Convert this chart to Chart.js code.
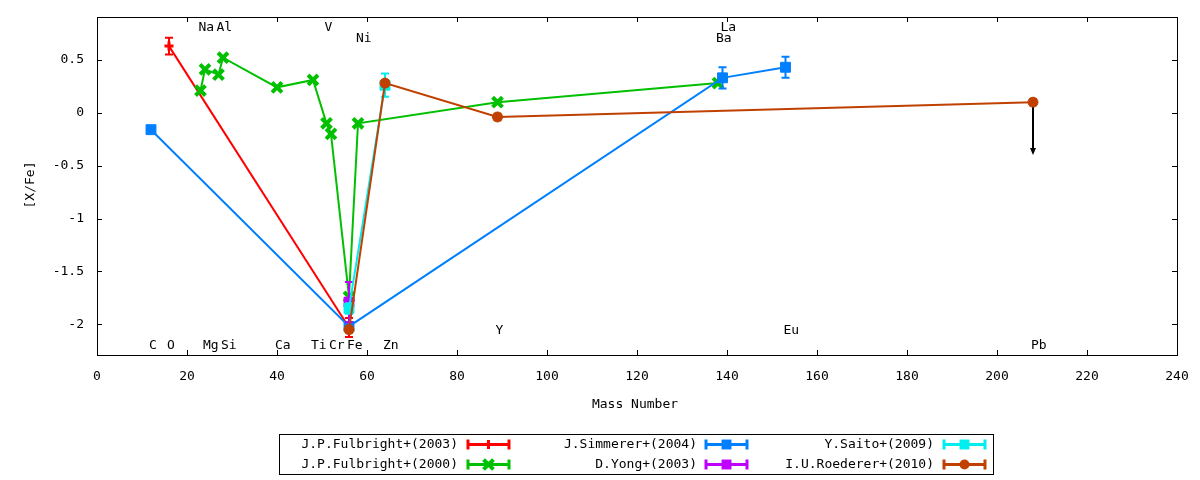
<!DOCTYPE html>
<html>
<head>
<meta charset="utf-8">
<title>[X/Fe] vs Mass Number</title>
<script src="https://cdn.jsdelivr.net/npm/chart.js@4.4.0/dist/chart.umd.min.js"></script>
<style>
  body { margin: 0; background: #fff; }
  #wrap { width: 1200px; height: 480px; }
</style>
</head>
<body>
<div id="wrap"><canvas id="abund" width="1200" height="480"></canvas></div>
<script>
var FONT = '"DejaVu Sans Mono", monospace';

// axis ticks
var xTicks = [0, 20, 40, 60, 80, 100, 120, 140, 160, 180, 200, 220, 240];
var yTicks = [-2, -1.5, -1, -0.5, 0, 0.5];

// J.P.Fulbright+(2003)
var fulb03Mass = [16, 56];
var fulb03Val  = [0.63, -2.03];
var fulb03Err  = [0.08, 0.09];

// J.P.Fulbright+(2000)
var fulb00Mass = [23, 24, 27, 28, 40, 48, 51, 52, 56, 58, 89, 138];
var fulb00Val  = [0.21, 0.41, 0.36, 0.52, 0.24, 0.31, -0.10, -0.20, -1.74, -0.10, 0.10, 0.28];
var fulb00Err  = [0, 0, 0, 0, 0, 0, 0, 0, 0, 0, 0, 0];

// J.Simmerer+(2004)
var simmMass = [12, 56, 139, 153];
var simmVal  = [-0.16, -2.02, 0.33, 0.43];
var simmErr  = [0.03, 0.03, 0.10, 0.10];

// D.Yong+(2003)
var yongMass = [56];
var yongVal  = [-1.79];
var yongErr  = [0.19];

// Y.Saito+(2009)
var saitoMass = [56, 64];
var saitoVal  = [-1.85, 0.26];
var saitoErr  = [0.05, 0.11];

// I.U.Roederer+(2010)
var roedMass = [56, 64, 89, 208];
var roedVal  = [-2.05, 0.28, -0.04, 0.10];
var roedErr  = [0.03, 0.03, 0.03, 0.03];

// upper limit (Pb)
var limitMass = [208];
var limitFrom = [0.10];
var limitTo   = [-0.40];

// element labels
var elemNames = ['C', 'O', 'Na', 'Mg', 'Al', 'Si', 'Ca', 'Ti', 'V', 'Cr', 'Fe', 'Ni', 'Zn', 'Y', 'Ba', 'La', 'Eu', 'Pb'];
var elemMass  = [12, 16, 23, 24, 27, 28, 40, 48, 51, 52, 56, 58, 64, 89, 138, 139, 153, 208];
var elemPos   = [-2.2, -2.2, 0.8, -2.2, 0.8, -2.2, -2.2, -2.2, 0.8, -2.2, -2.2, 0.7, -2.2, -2.06, 0.7, 0.8, -2.06, -2.2];

var series = [
  { label: 'J.P.Fulbright+(2003)', mass: fulb03Mass, val: fulb03Val, err: fulb03Err, color: '#ff0000', style: 'cross',    r: 4.5, bw: 3 },
  { label: 'J.P.Fulbright+(2000)', mass: fulb00Mass, val: fulb00Val, err: fulb00Err, color: '#00c000', style: 'crossRot', r: 7,   bw: 4 },
  { label: 'J.Simmerer+(2004)',    mass: simmMass,   val: simmVal,   err: simmErr,   color: '#0080ff', style: 'rect',     r: 7,   bw: 1 },
  { label: 'D.Yong+(2003)',        mass: yongMass,   val: yongVal,   err: yongErr,   color: '#c000ff', style: 'rect',     r: 7,   bw: 1 },
  { label: 'Y.Saito+(2009)',       mass: saitoMass,  val: saitoVal,  err: saitoErr,  color: '#00eeee', style: 'rect',     r: 7,   bw: 1 },
  { label: 'I.U.Roederer+(2010)',  mass: roedMass,   val: roedVal,   err: roedErr,   color: '#c04000', style: 'circle',   r: 5,   bw: 1 }
];

function drawMarker(ctx, style, x, y, r, color) {
  ctx.save();
  ctx.fillStyle = color;
  ctx.strokeStyle = color;
  ctx.lineWidth = 3;
  ctx.beginPath();
  if (style === 'rect') {
    var s = r * Math.SQRT1_2;
    ctx.fillRect(x - s, y - s, 2 * s, 2 * s);
  } else if (style === 'circle') {
    ctx.arc(x, y, r, 0, Math.PI * 2);
    ctx.fill();
  } else if (style === 'cross') {
    ctx.moveTo(x - r, y); ctx.lineTo(x + r, y);
    ctx.moveTo(x, y - r); ctx.lineTo(x, y + r);
    ctx.stroke();
  } else {
    var d = r * Math.SQRT1_2;
    ctx.lineWidth = 4;
    ctx.moveTo(x - d, y - d); ctx.lineTo(x + d, y + d);
    ctx.moveTo(x + d, y - d); ctx.lineTo(x - d, y + d);
    ctx.stroke();
  }
  ctx.restore();
}

var frame = {
  id: 'frame',
  beforeDatasetsDraw: function(chart) {
    var ctx = chart.ctx, a = chart.chartArea;
    var xs = chart.scales.x, ys = chart.scales.y;
    ctx.save();
    ctx.strokeStyle = '#000';
    ctx.lineWidth = 1;
    ctx.strokeRect(a.left + 0.5, a.top + 0.5, a.right - a.left, a.bottom - a.top);
    ctx.beginPath();
    xTicks.forEach(function(v) {
      var px = Math.round(xs.getPixelForValue(v)) + 0.5;
      ctx.moveTo(px, a.bottom); ctx.lineTo(px, a.bottom - 5);
      ctx.moveTo(px, a.top); ctx.lineTo(px, a.top + 5);
    });
    yTicks.forEach(function(v) {
      var py = Math.round(ys.getPixelForValue(v)) + 0.5;
      ctx.moveTo(a.left, py); ctx.lineTo(a.left + 5, py);
      ctx.moveTo(a.right, py); ctx.lineTo(a.right - 5, py);
    });
    ctx.stroke();
    ctx.restore();
  }
};

var errorBars = {
  id: 'errorBars',
  afterDatasetDraw: function(chart, args) {
    var ds = chart.data.datasets[args.index];
    var ctx = chart.ctx, xs = chart.scales.x, ys = chart.scales.y, a = chart.chartArea;
    ctx.save();
    ctx.beginPath();
    ctx.rect(a.left, a.top, a.right - a.left, a.bottom - a.top);
    ctx.clip();
    ctx.strokeStyle = ds.borderColor;
    ctx.lineWidth = 2;
    ds.errors.forEach(function(e, i) {
      if (!e) return;
      var p = ds.data[i];
      var x = xs.getPixelForValue(p.x);
      var y1 = ys.getPixelForValue(p.y + e), y2 = ys.getPixelForValue(p.y - e);
      ctx.beginPath();
      ctx.moveTo(x, y1); ctx.lineTo(x, y2);
      ctx.moveTo(x - 4, y1); ctx.lineTo(x + 4, y1);
      ctx.moveTo(x - 4, y2); ctx.lineTo(x + 4, y2);
      ctx.stroke();
    });
    ctx.restore();
  }
};

var annotations = {
  id: 'annotations',
  afterDatasetsDraw: function(chart) {
    var ctx = chart.ctx, xs = chart.scales.x, ys = chart.scales.y;
    ctx.save();
    // upper-limit arrow
    ctx.strokeStyle = '#000';
    ctx.fillStyle = '#000';
    ctx.lineWidth = 2;
    limitMass.forEach(function(m, i) {
      var x = xs.getPixelForValue(m);
      var y1 = ys.getPixelForValue(limitFrom[i]) + 5, y2 = ys.getPixelForValue(limitTo[i]);
      ctx.beginPath();
      ctx.moveTo(x, y1); ctx.lineTo(x, y2 - 5);
      ctx.stroke();
      ctx.beginPath();
      ctx.moveTo(x - 3, y2 - 7); ctx.lineTo(x + 3, y2 - 7); ctx.lineTo(x, y2);
      ctx.closePath();
      ctx.fill();
    });
    // element names
    ctx.font = '13px ' + FONT;
    ctx.textAlign = 'left';
    ctx.textBaseline = 'middle';
    elemNames.forEach(function(n, i) {
      ctx.fillText(n, xs.getPixelForValue(elemMass[i]) - 2, ys.getPixelForValue(elemPos[i]));
    });
    ctx.restore();
  },
  afterDraw: function(chart) {
    var ctx = chart.ctx;
    ctx.save();
    ctx.fillStyle = '#000';
    ctx.font = '13px ' + FONT;
    ctx.textAlign = 'center';
    ctx.textBaseline = 'middle';
    ctx.fillText('Mass Number', 635, 405);
    ctx.save();
    ctx.translate(31, 185);
    ctx.rotate(-Math.PI / 2);
    ctx.fillText('[X/Fe]', 0, 0);
    ctx.restore();

    // legend
    ctx.strokeStyle = '#000';
    ctx.lineWidth = 1;
    ctx.strokeRect(279.5, 434.5, 714, 40);
    var textRight = [458, 697, 934], sampleLeft = [467, 705, 943], rowY = [444.5, 464.5];
    ctx.textAlign = 'right';
    series.forEach(function(s, k) {
      var col = Math.floor(k / 2), row = k % 2;
      var y = rowY[row], x0 = sampleLeft[col], x1 = x0 + 43;
      ctx.fillStyle = '#000';
      ctx.fillText(s.label, textRight[col], y);
      ctx.strokeStyle = s.color;
      ctx.lineWidth = 3;
      ctx.beginPath();
      ctx.moveTo(x0, y); ctx.lineTo(x1, y);
      ctx.moveTo(x0 + 1, y - 5); ctx.lineTo(x0 + 1, y + 5);
      ctx.moveTo(x1 - 1, y - 5); ctx.lineTo(x1 - 1, y + 5);
      ctx.stroke();
      drawMarker(ctx, s.style, (x0 + x1) / 2, y, s.r, s.color);
    });
    ctx.restore();
  }
};

var datasets = series.map(function(s, i) {
  return {
    label: s.label,
    data: s.mass.map(function(m, j) { return { x: m, y: s.val[j] }; }),
    errors: s.err,
    borderColor: s.color,
    backgroundColor: s.color,
    borderWidth: 2,
    pointStyle: s.style,
    pointRadius: s.r,
    pointHoverRadius: s.r,
    pointBorderWidth: s.bw,
    pointBorderColor: s.color,
    pointBackgroundColor: s.color,
    tension: 0,
    fill: false,
    order: series.length - i
  };
});

new Chart(document.getElementById('abund'), {
  type: 'line',
  data: { datasets: datasets },
  options: {
    responsive: false,
    animation: false,
    devicePixelRatio: 1,
    layout: { padding: { left: 0, right: 23, top: 17, bottom: 55 } },
    plugins: { legend: { display: false }, tooltip: { enabled: false } },
    scales: {
      x: {
        type: 'linear',
        min: 0,
        max: 240,
        afterBuildTicks: function(scale) { scale.ticks = xTicks.map(function(v) { return { value: v }; }); },
        afterFit: function(scale) {
          scale.height = 70;
          scale.paddingLeft = 0; scale.paddingRight = 0; scale.paddingTop = 0; scale.paddingBottom = 0;
        },
        grid: { display: false, drawTicks: false },
        border: { display: false },
        ticks: { color: '#000', font: { family: FONT, size: 13 }, padding: 14, maxRotation: 0,
                 callback: function(v) { return String(v); } }
      },
      y: {
        type: 'linear',
        min: -2.29,
        max: 0.905,
        afterBuildTicks: function(scale) { scale.ticks = yTicks.map(function(v) { return { value: v }; }); },
        afterFit: function(scale) {
          scale.width = 97;
          scale.paddingLeft = 0; scale.paddingRight = 0; scale.paddingTop = 0; scale.paddingBottom = 0;
        },
        grid: { display: false, drawTicks: false },
        border: { display: false },
        ticks: { color: '#000', font: { family: FONT, size: 13 }, padding: 13,
                 callback: function(v) { return String(v); } }
      }
    }
  },
  plugins: [frame, errorBars, annotations]
});
</script>
</body>
</html>
